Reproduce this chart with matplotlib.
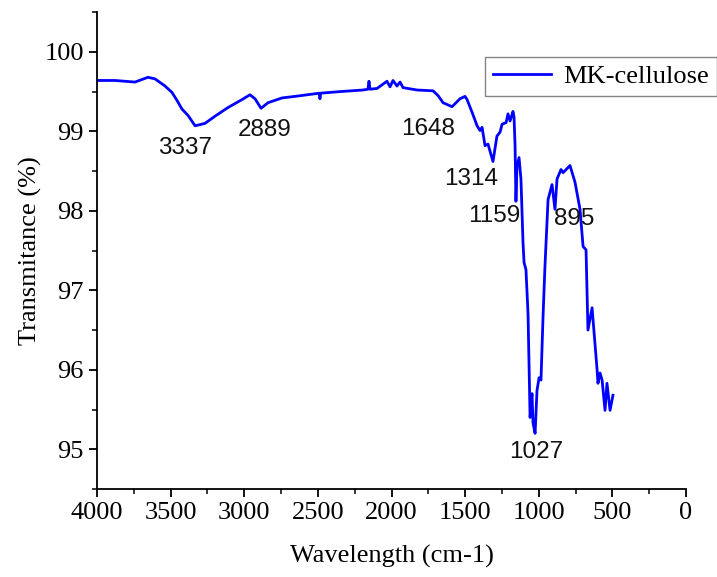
import numpy as np
import matplotlib
matplotlib.use("Agg")
import matplotlib.pyplot as plt
from matplotlib.ticker import MultipleLocator

# spectrum (wavenumber, transmittance %)
wavenumber = [4000, 3878, 3742, 3654, 3606, 3538, 3491, 3457, 3423, 3382,
              3334, 3267, 3199, 3110, 3015, 2961, 2927, 2886, 2839, 2744,
              2655, 2490, 2486, 2482, 2350, 2194, 2160, 2153, 2146, 2098,
              2031, 2010, 1990, 1963, 1942, 1922, 1827, 1718, 1684, 1650,
              1589, 1535, 1501, 1487, 1453, 1419, 1399, 1385, 1365, 1345,
              1331, 1311, 1284, 1263, 1249, 1222, 1209, 1195, 1175, 1168,
              1161, 1155, 1148, 1134, 1121, 1107, 1100, 1087, 1073, 1059,
              1046, 1039, 1025, 1012, 998, 985, 971, 958, 937, 910,
              890, 876, 849, 835, 788, 754, 720, 699, 679, 666,
              638, 604, 598, 584, 570, 550, 537, 516, 496]
transmittance = [99.64, 99.64, 99.62, 99.68, 99.66, 99.57, 99.49, 99.39, 99.28, 99.20,
                 99.07, 99.10, 99.19, 99.30, 99.40, 99.46, 99.41, 99.29, 99.36, 99.42,
                 99.44, 99.48, 99.41, 99.48, 99.50, 99.52, 99.53, 99.63, 99.53, 99.54,
                 99.63, 99.56, 99.64, 99.57, 99.62, 99.55, 99.52, 99.51, 99.45, 99.36,
                 99.31, 99.41, 99.44, 99.40, 99.24, 99.07, 99.01, 99.05, 98.82, 98.84,
                 98.75, 98.62, 98.94, 98.99, 99.09, 99.11, 99.22, 99.13, 99.25, 99.18,
                 98.82, 98.12, 98.56, 98.67, 98.40, 97.60, 97.35, 97.26, 96.71, 95.40,
                 95.70, 95.33, 95.20, 95.74, 95.90, 95.87, 96.67, 97.30, 98.14, 98.33,
                 98.02, 98.40, 98.52, 98.48, 98.57, 98.36, 98.02, 97.55, 97.51, 96.50,
                 96.78, 96.00, 95.83, 95.96, 95.87, 95.49, 95.83, 95.49, 95.68]

# peak labels and where their text sits
peak_labels = ["3337", "2889", "1648", "1314", "1159", "895", "1027"]
label_x = [3402, 2859, 1752, 1460, 1304, 761, 1019]
label_y = [98.79, 99.015, 99.03, 98.40, 97.94, 97.90, 94.96]

plt.rcParams['font.family'] = ['Liberation Serif', 'DejaVu Serif']

fig = plt.figure(figsize=(7.17, 5.77), dpi=100)
ax = fig.add_axes([0.1353, 0.1525, 0.8215, 0.8265])

ax.plot(wavenumber, transmittance, color='#0000ff', lw=2.0, label='MK-cellulose')

for txt, xx, yy in zip(peak_labels, label_x, label_y):
    ax.text(xx, yy, txt, ha='center', va='center', fontsize=17.5,
            family=['Liberation Sans', 'DejaVu Sans'], color='#111111')

ax.set_xlim(4000, 0)
ax.set_ylim(94.5, 100.5)
ax.xaxis.set_major_locator(MultipleLocator(500))
ax.xaxis.set_minor_locator(MultipleLocator(250))
ax.yaxis.set_major_locator(MultipleLocator(1))
ax.yaxis.set_minor_locator(MultipleLocator(0.5))

for s in ['top', 'right']:
    ax.spines[s].set_visible(False)
for s in ['left', 'bottom']:
    ax.spines[s].set_linewidth(1.3)
ax.tick_params(which='major', direction='out', length=6, width=1.3, labelsize=19)
ax.tick_params(which='minor', direction='out', length=3.5, width=1.1)

ax.set_xlabel('Wavelength (cm-1)', fontsize=19, labelpad=15)
ax.set_ylabel('Transmitance (%)', fontsize=19, labelpad=2)

leg = ax.legend(loc='upper left', bbox_to_anchor=(0.659, 0.906), borderaxespad=0,
                fontsize=19, fancybox=False, edgecolor='#666666', handlelength=2.2,
                handletextpad=0.45, borderpad=0.3)
leg.get_frame().set_linewidth(1.0)

fig.savefig('out.png', dpi=100)
